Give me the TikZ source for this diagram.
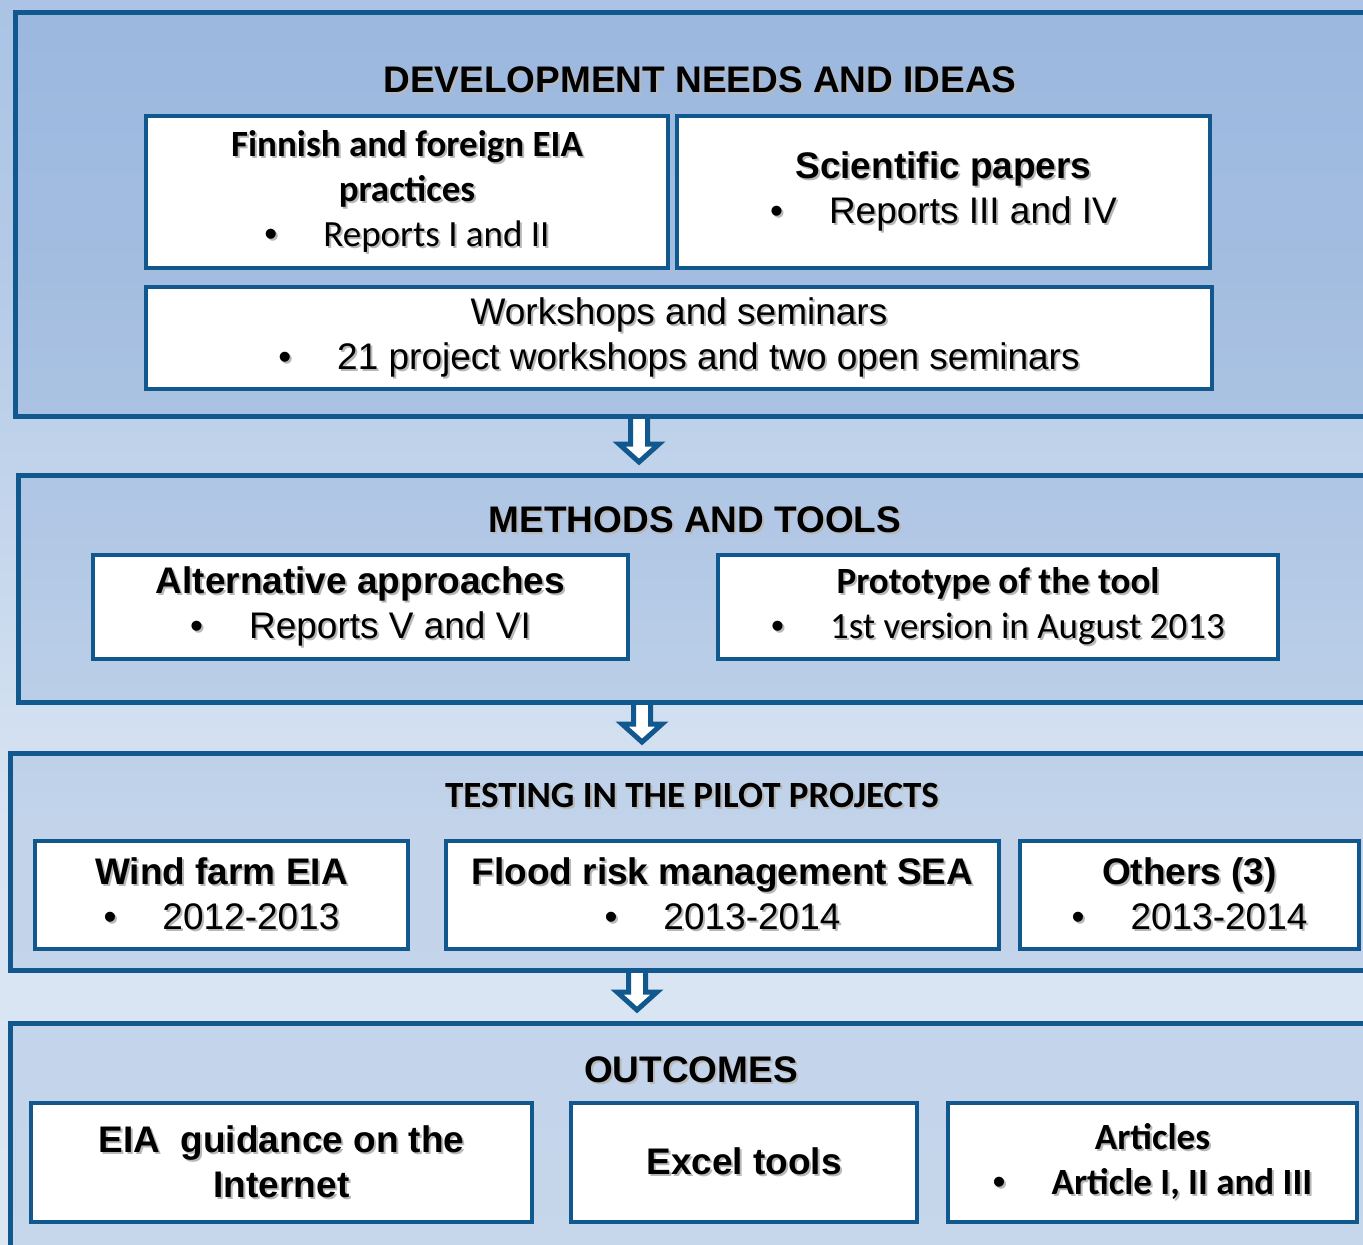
\documentclass[tikz,border=0pt]{standalone}
\usepackage{fontspec}
\setmainfont{Liberation Sans}
\newfontfamily\calibri{Carlito}
\usetikzlibrary{calc,positioning}
\definecolor{boxblue}{RGB}{16,88,142}
\definecolor{bgtop}{RGB}{150,180,222}
\definecolor{bgup}{RGB}{180,202,231}
\definecolor{bgmid}{RGB}{216,228,242}
\definecolor{bgbot}{RGB}{228,236,246}
\definecolor{panelfill}{RGB}{70,120,190}
\pgfdeclareverticalshading{bgshade}{100bp}{color(0bp)=(bgbot); color(42bp)=(bgmid); color(64bp)=(bgup); color(100bp)=(bgtop)}
\newcommand{\bigtxt}{\fontsize{37}{45}\selectfont}
\newcommand{\bul}{{\rmfamily\mdseries\textbullet}\hspace{46pt}}
% text with a soft shadow
\newcommand{\shd}[1]{\leavevmode\rlap{\kern2pt\raisebox{-2pt}{\textcolor{black!28}{#1}}}#1}
\tikzset{%
  % Specifications for style of nodes:
  panel/.style = {rectangle, draw=boxblue, line width=5pt,
    fill=panelfill, fill opacity=0.15,
    anchor=north west, minimum width=1400pt, inner sep=0pt},
  title/.style = {font=\bfseries\bigtxt, inner sep=0pt},
  box/.style = {rectangle, draw=boxblue, line width=4pt, fill=white,
    inner sep=0pt, align=center, font=\bigtxt},
  % hollow arrow between the panels
  flow/.style = {draw=boxblue, line width=5pt, fill=white, line join=miter,
    to path={let \p1=(\tikztostart), \p2=(\tikztotarget) in
      (\x1-8.5pt,\y1) -- (\x1-8.5pt,\y2+21pt) -- (\x1-20pt,\y2+21pt)
      -- (\x1,\y2+3pt) -- (\x1+20pt,\y2+21pt) -- (\x1+8.5pt,\y2+21pt)
      -- (\x1+8.5pt,\y1)}},
}

\begin{document}
\begin{tikzpicture}[x=1pt, y=-1pt]
  \useasboundingbox (0,0) rectangle (1363,1245);
  \shade[shading=bgshade] (0,0) rectangle (1363,1245);
  % Panels
  \node[panel, minimum height=404pt] (p1) at (13,10) {};
  \node[panel, minimum height=227pt] (p2) at (16,473) {};
  \node[panel, minimum height=217pt] (p3) at (8,751) {};
  \node[panel, minimum height=300pt] (p4) at (8,1021) {};
  % Titles
  \node[title] (t1) at (700,81) {\shd{DEVELOPMENT NEEDS AND IDEAS}};
  \node[title] (t2) at (695,521) {\shd{METHODS AND TOOLS}};
  \node[title, font=\calibri\bfseries\bigtxt] (t3) at (692,796) {\shd{TESTING IN THE PILOT PROJECTS}};
  \node[title] (t4) at (691,1071) {\shd{OUTCOMES}};
  % Development needs
  \node[box, minimum width=522pt, minimum height=152pt] (fin) at (407,192) {%
    {\calibri\bfseries\shd{Finnish and foreign EIA}}\\
    {\calibri\bfseries\shd{practices}}\\
    {\calibri\shd{\bul Reports I and II}}};
  \node[box, minimum width=533pt, minimum height=152pt] (sci) at (943.5,192) {%
    {\bfseries\shd{Scientific papers}}\\ \shd{\bul Reports III and IV}};
  \node[box, minimum width=1066pt, minimum height=102pt] (ws) at (679,338) {%
    \shd{Workshops and seminars}\\ \shd{\bul 21 project workshops and two open seminars}};
  % Methods and tools
  \node[box, minimum width=535pt, minimum height=104pt] (alt) at (360.5,607) {%
    {\bfseries\shd{Alternative approaches}}\\ \shd{\bul Reports V and VI}};
  \node[box, minimum width=560pt, minimum height=104pt] (proto) at (998,607) {%
    {\calibri\bfseries\shd{Prototype of the tool}}\\
    {\calibri\shd{\bul 1st version in August 2013}}};
  % Pilot projects
  \node[box, minimum width=373pt, minimum height=108pt] (wind) at (221.5,895) {%
    {\bfseries\shd{Wind farm EIA}}\\ \shd{\bul 2012-2013}};
  \node[box, minimum width=553pt, minimum height=108pt] (flood) at (722.5,895) {%
    {\bfseries\shd{Flood risk management SEA}}\\ \shd{\bul 2013-2014}};
  \node[box, minimum width=339pt, minimum height=108pt] (oth) at (1189.5,895) {%
    {\bfseries\shd{Others (3)}}\\ \shd{\bul 2013-2014}};
  % Outcomes
  \node[box, minimum width=501pt, minimum height=119pt] (guide) at (281.5,1162.5) {%
    {\bfseries\shd{EIA\ \ guidance on the}}\\ {\bfseries\shd{Internet}}};
  \node[box, minimum width=346pt, minimum height=119pt] (excel) at (744,1162.5) {%
    {\bfseries\shd{Excel tools}}};
  \node[box, minimum width=409pt, minimum height=119pt] (art) at (1152.5,1162.5) {%
    {\calibri\bfseries\shd{Articles}}\\
    {\calibri\bfseries\shd{\bul Article I, II and III}}};
  % Arrows
  \coordinate (ax1) at (639,0);
  \coordinate (ax2) at (642,0);
  \coordinate (ax3) at (637,0);
  \coordinate (e1) at ($(p2.north -| ax1)+(0,-8)$);
  \coordinate (e2) at ($(p3.north -| ax2)+(0,-6)$);
  \coordinate (e3) at ($(p4.north -| ax3)+(0,-8)$);
  \draw[flow] (p1.south -| ax1) to (e1);
  \draw[flow] (p2.south -| ax2) to (e2);
  \draw[flow] (p3.south -| ax3) to (e3);
\end{tikzpicture}
\end{document}
